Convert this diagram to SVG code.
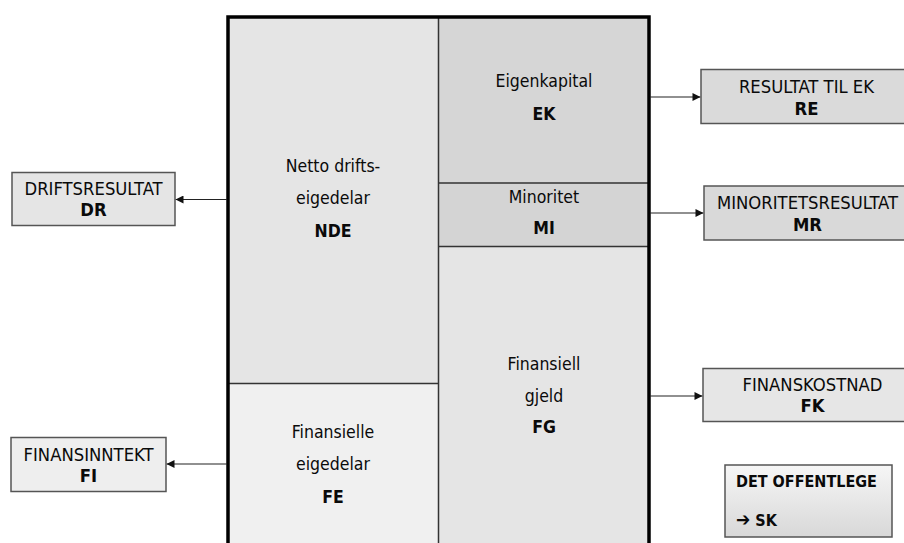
<svg xmlns="http://www.w3.org/2000/svg" width="904" height="543" viewBox="0 0 904 543">
<defs>
<style>
text{font-family:"DejaVu Sans Condensed","DejaVu Sans",sans-serif;font-stretch:condensed;font-size:17.5px;fill:#0a0a0a;text-anchor:middle}
.c{font-size:18.3px}
.s{font-size:16px}
.b{font-weight:bold}
.l{text-anchor:start}
.box{stroke:#555;stroke-width:1.5}
.div{stroke:#333;stroke-width:1.5;fill:none}
.conn{stroke:#222;stroke-width:1.2;fill:none;marker-end:url(#ah)}
</style>
<marker id="ah" viewBox="0 0 10 10" refX="10" refY="5" markerWidth="9" markerHeight="8" markerUnits="userSpaceOnUse" orient="auto">
<path d="M0,0 L10,5 L0,10 Z" fill="#111"/>
</marker>
<linearGradient id="gsk" x1="0" y1="0" x2="0" y2="1">
<stop offset="0" stop-color="#f6f6f6"/>
<stop offset="1" stop-color="#d8d8d8"/>
</linearGradient>
</defs>
<rect width="904" height="543" fill="#fff"/>

<g id="main">
<g id="NDE">
<rect x="228" y="17" width="210.5" height="366.5" fill="#e5e5e5"/>
<text x="333" y="172">Netto drifts-</text>
<text x="333" y="204">eigedelar</text>
<text x="333" y="237" class="b">NDE</text>
</g>
<g id="FE">
<rect x="228" y="383.5" width="210.5" height="162" fill="#f0f0f0"/>
<text x="333" y="438">Finansielle</text>
<text x="333" y="470">eigedelar</text>
<text x="333" y="503" class="b">FE</text>
</g>
<g id="EK">
<rect x="438.5" y="17" width="210.5" height="166" fill="#d6d6d6"/>
<text x="544" y="87">Eigenkapital</text>
<text x="544" y="120" class="b">EK</text>
</g>
<g id="MI">
<rect x="438.5" y="183" width="210.5" height="63.5" fill="#d4d4d4"/>
<text x="544" y="203">Minoritet</text>
<text x="544" y="234" class="b">MI</text>
</g>
<g id="FG">
<rect x="438.5" y="246.5" width="210.5" height="299" fill="#e5e5e5"/>
<text x="544" y="370">Finansiell</text>
<text x="544" y="402">gjeld</text>
<text x="544" y="433" class="b">FG</text>
</g>
<path class="div" d="M438.5,17 V545 M228,383.5 H438.5 M438.5,183 H649 M438.5,246.5 H649"/>
<rect x="228" y="17" width="421" height="540" fill="none" stroke="#000" stroke-width="3.5"/>
</g>

<g id="connectors">
<path class="conn" d="M227,199.5 H175.5"/>
<path class="conn" d="M227,464 H166.5"/>
<path class="conn" d="M650,97 H700.5"/>
<path class="conn" d="M650,213 H703.5"/>
<path class="conn" d="M650,396 H702.5"/>
</g>

<g id="DR">
<rect class="box" x="12" y="172.5" width="163" height="53" fill="#e5e5e5"/>
<text x="93.5" y="195" class="c">DRIFTSRESULTAT</text>
<text x="93.5" y="216" class="b c">DR</text>
</g>
<g id="FI">
<rect class="box" x="11" y="437.5" width="155" height="54" fill="#eeeeee"/>
<text x="88.5" y="461" class="c">FINANSINNTEKT</text>
<text x="88.5" y="482" class="b c">FI</text>
</g>
<g id="RE">
<rect class="box" x="701" y="69.5" width="210" height="54" fill="#dadada"/>
<text x="806.5" y="93" class="c">RESULTAT TIL EK</text>
<text x="806.5" y="115" class="b c">RE</text>
</g>
<g id="MR">
<rect class="box" x="704" y="186" width="210" height="54" fill="#d9d9d9"/>
<text x="807.5" y="209" class="c">MINORITETSRESULTAT</text>
<text x="807.5" y="231" class="b c">MR</text>
</g>
<g id="FK">
<rect class="box" x="703" y="368.5" width="210" height="53" fill="#e6e6e6"/>
<text x="812.5" y="391" class="c">FINANSKOSTNAD</text>
<text x="812.5" y="412" class="b c">FK</text>
</g>
<g id="SK">
<rect class="box" x="725" y="465" width="167" height="72" fill="url(#gsk)"/>
<text x="736" y="487" class="b l s">DET OFFENTLEGE</text>
<text x="736" y="526" class="b l s"><tspan font-size="19">➔</tspan> SK</text>
</g>
</svg>
